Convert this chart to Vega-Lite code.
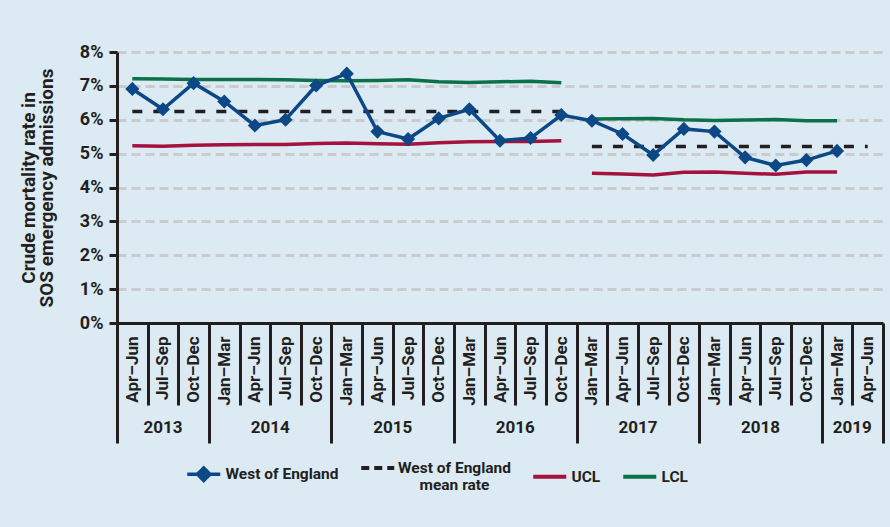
{
  "$schema": "https://vega.github.io/schema/vega-lite/v6.json",
  "autosize": {"type": "none"},
  "width": 766,
  "height": 271,
  "padding": {"left": 117, "top": 52, "right": 7, "bottom": 204},
  "background": "#dcebf3",
  "data": {
    "values": [
      {"period": "2013 Apr–Jun", "rate": 6.91, "mean": 6.24, "ucl": 5.23, "lcl": 7.21, "phase": 1},
      {"period": "2013 Jul–Sep", "rate": 6.31, "mean": 6.24, "ucl": 5.22, "lcl": 7.20, "phase": 1},
      {"period": "2013 Oct–Dec", "rate": 7.08, "mean": 6.24, "ucl": 5.25, "lcl": 7.19, "phase": 1},
      {"period": "2014 Jan–Mar", "rate": 6.54, "mean": 6.24, "ucl": 5.26, "lcl": 7.19, "phase": 1},
      {"period": "2014 Apr–Jun", "rate": 5.83, "mean": 6.24, "ucl": 5.27, "lcl": 7.19, "phase": 1},
      {"period": "2014 Jul–Sep", "rate": 6.00, "mean": 6.24, "ucl": 5.27, "lcl": 7.18, "phase": 1},
      {"period": "2014 Oct–Dec", "rate": 7.01, "mean": 6.24, "ucl": 5.30, "lcl": 7.16, "phase": 1},
      {"period": "2015 Jan–Mar", "rate": 7.36, "mean": 6.24, "ucl": 5.31, "lcl": 7.15, "phase": 1},
      {"period": "2015 Apr–Jun", "rate": 5.65, "mean": 6.24, "ucl": 5.29, "lcl": 7.16, "phase": 1},
      {"period": "2015 Jul–Sep", "rate": 5.43, "mean": 6.24, "ucl": 5.28, "lcl": 7.18, "phase": 1},
      {"period": "2015 Oct–Dec", "rate": 6.04, "mean": 6.24, "ucl": 5.32, "lcl": 7.12, "phase": 1},
      {"period": "2016 Jan–Mar", "rate": 6.31, "mean": 6.24, "ucl": 5.35, "lcl": 7.10, "phase": 1},
      {"period": "2016 Apr–Jun", "rate": 5.38, "mean": 6.24, "ucl": 5.36, "lcl": 7.12, "phase": 1},
      {"period": "2016 Jul–Sep", "rate": 5.46, "mean": 6.24, "ucl": 5.36, "lcl": 7.14, "phase": 1},
      {"period": "2016 Oct–Dec", "rate": 6.14, "mean": 6.24, "ucl": 5.38, "lcl": 7.09, "phase": 1},
      {"period": "2017 Jan–Mar", "rate": 5.97, "mean": 5.21, "ucl": 4.42, "lcl": 6.02, "phase": 2},
      {"period": "2017 Apr–Jun", "rate": 5.58, "mean": 5.21, "ucl": 4.40, "lcl": 6.03, "phase": 2},
      {"period": "2017 Jul–Sep", "rate": 4.96, "mean": 5.21, "ucl": 4.37, "lcl": 6.04, "phase": 2},
      {"period": "2017 Oct–Dec", "rate": 5.73, "mean": 5.21, "ucl": 4.45, "lcl": 6.00, "phase": 2},
      {"period": "2018 Jan–Mar", "rate": 5.65, "mean": 5.21, "ucl": 4.46, "lcl": 5.98, "phase": 2},
      {"period": "2018 Apr–Jun", "rate": 4.89, "mean": 5.21, "ucl": 4.42, "lcl": 5.99, "phase": 2},
      {"period": "2018 Jul–Sep", "rate": 4.65, "mean": 5.21, "ucl": 4.39, "lcl": 6.01, "phase": 2},
      {"period": "2018 Oct–Dec", "rate": 4.81, "mean": 5.21, "ucl": 4.46, "lcl": 5.97, "phase": 2},
      {"period": "2019 Jan–Mar", "rate": 5.08, "mean": 5.21, "ucl": 4.46, "lcl": 5.97, "phase": 2},
      {"period": "2019 Apr–Jun", "rate": null, "mean": 5.21, "ucl": null, "lcl": null, "phase": 2}
    ]
  },
  "transform": [{"fold": ["lcl", "ucl", "mean", "rate"], "as": ["series", "value"]}],
  "encoding": {
    "y": {"field": "value", "type": "quantitative", "scale": {"domain": [0, 8]},
          "title": ["Crude mortality rate in", "SOS emergency admissions"],
          "axis": {
            "values": [0, 1, 2, 3, 4, 5, 6, 7, 8],
            "labelExpr": "datum.value + '%'",
            "grid": true,
            "gridDash": [9, 5],
            "gridColor": "#c9cbcd",
            "gridWidth": 3,
            "tickSize": 8,
            "tickWidth": 3,
            "labelPadding": 6,
            "labelFontSize": 18,
            "titleFontSize": 19,
            "titlePadding": 23,
            "titleLineHeight": 18
          }}
  },
  "layer": [
    {
      "transform": [{"filter": "datum.series == 'lcl'"}],
      "mark": {"type": "line", "strokeWidth": 3.5},
      "encoding": {
        "x": {"field": "period", "type": "ordinal", "sort": null,
              "scale": {"type": "band", "paddingInner": 0, "paddingOuter": 0}, "axis": null},
        "detail": {"field": "phase"},
        "color": {"datum": "LCL", "scale": {"domain": ["West of England", "West of England mean rate", "UCL", "LCL"], "range": ["#0b4885", "#231f20", "#a5123f", "#0b7149"]},
                  "legend": {
                    "labelExpr": "datum.label == 'West of England mean rate' ? ['West of England', 'mean rate'] : datum.label",
                    "encode": {
                      "symbols": {
                        "update": {
                          "shape": {"signal": "datum.value == 'West of England' ? 'M-1,0L1,0M0,-0.38L0.38,0L0,0.38L-0.38,0Z' : 'stroke'"},
                          "fill": {"signal": "datum.value == 'West of England' ? '#0b4885' : 'transparent'"},
                          "strokeDash": {"signal": "datum.value == 'West of England mean rate' ? [8, 5] : [1, 0]"},
                          "strokeWidth": {"signal": "datum.value == 'West of England' ? 3.5 : 4"}
                        }
                      },
                      "labels": {
                        "update": {
                          "align": {"signal": "datum.value == 'West of England mean rate' ? 'center' : 'left'"},
                          "dx": {"signal": "datum.value == 'West of England mean rate' ? 55 : 0"}
                        }
                      }
                    }
                  }}
      }
    },
    {
      "transform": [{"filter": "datum.series == 'ucl'"}],
      "mark": {"type": "line", "strokeWidth": 3.5},
      "encoding": {
        "x": {"field": "period", "type": "ordinal", "sort": null,
              "scale": {"type": "band", "paddingInner": 0, "paddingOuter": 0}, "axis": null},
        "detail": {"field": "phase"},
        "color": {"datum": "UCL"}
      }
    },
    {
      "transform": [{"filter": "datum.series == 'mean'"}],
      "mark": {"type": "line", "strokeWidth": 3.5, "strokeDash": [10, 11]},
      "encoding": {
        "x": {"field": "period", "type": "ordinal", "sort": null,
              "scale": {"type": "band", "paddingInner": 0, "paddingOuter": 0},
              "axis": {
                "orient": "bottom",
                "title": null,
                "values": ["2013 Jul–Sep", "2014 Jul–Sep", "2015 Jul–Sep", "2016 Jul–Sep", "2017 Jul–Sep", "2018 Jul–Sep", "2019 Apr–Jun"],
                "labelExpr": "split(datum.value, ' ')[0]",
                "ticks": false,
                "domain": false,
                "grid": false,
                "labelAngle": 0,
                "labelAlign": "center",
                "labelBaseline": "middle",
                "labelPadding": 104,
                "labelFontSize": 17,
                "labelOverlap": false,
                "labelOffset": {"condition": {"test": "datum.value == '2013 Jul–Sep'", "value": 0}, "value": -15.32}
              }},
        "detail": {"field": "phase"},
        "color": {"datum": "West of England mean rate"}
      }
    },
    {
      "transform": [{"filter": "datum.series == 'rate'"}],
      "mark": {"type": "line", "strokeWidth": 3.5, "point": {"shape": "diamond", "size": 200, "filled": true, "opacity": 1}},
      "encoding": {
        "x": {"field": "period", "type": "ordinal", "sort": null,
              "scale": {"type": "band", "paddingInner": 0, "paddingOuter": 0},
              "axis": {
                "orient": "bottom",
                "title": null,
                "tickBand": "extent",
                "labelExpr": "split(datum.value, ' ')[1]",
                "labelAngle": 270,
                "labelAlign": "right",
                "labelBaseline": "middle",
                "labelFontSize": 17,
                "labelOverlap": false,
                "grid": false,
                "tickWidth": 3,
                "tickSize": {"condition": {"test": "datum.extra || indexof(datum.value, 'Oct') >= 0 || datum.value == '2019 Apr–Jun'", "value": 120}, "value": 82},
                "labelPadding": {"condition": {"test": "datum.extra || indexof(datum.value, 'Oct') >= 0 || datum.value == '2019 Apr–Jun'", "value": -107}, "value": -69}
              }},
        "color": {"datum": "West of England"}
      }
    }
  ],
  "resolve": {"axis": {"x": "independent"}},
  "config": {
    "font": "Roboto",
    "view": {"stroke": null},
    "axis": {
      "labelFont": "Roboto",
      "labelFontWeight": "bold",
      "labelColor": "#231f20",
      "titleFont": "Roboto",
      "titleFontWeight": "bold",
      "titleColor": "#231f20",
      "domainColor": "#231f20",
      "domainWidth": 3,
      "tickColor": "#231f20"
    },
    "legend": {
      "orient": "none",
      "legendX": 79,
      "legendY": 408,
      "direction": "horizontal",
      "columns": 4,
      "title": null,
      "labelFont": "Roboto",
      "labelFontWeight": "bold",
      "labelFontSize": 15.5,
      "labelColor": "#231f20",
      "labelOffset": 14,
      "labelLimit": 300,
      "columnPadding": 14,
      "symbolSize": 1089,
      "symbolStrokeWidth": 4,
      "symbolType": "stroke"
    }
  }
}
